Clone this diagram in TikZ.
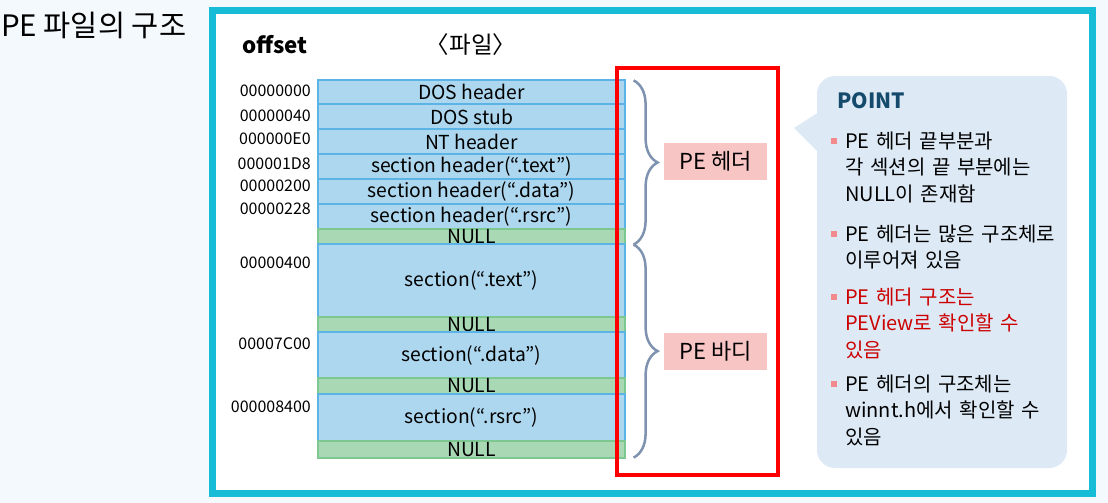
\documentclass[tikz,border=0pt]{standalone}
\usepackage{fontspec}
\setmainfont{Noto Sans CJK KR}
\usetikzlibrary{decorations.pathreplacing}
\definecolor{framecyan}{HTML}{17BCD6}
\definecolor{bgleft}{HTML}{F4F9FE}
\definecolor{secfill}{HTML}{ADD7EE}
\definecolor{secline}{HTML}{5CB4E6}
\definecolor{nulfill}{HTML}{A9D8B5}
\definecolor{nulline}{HTML}{7DC790}
\definecolor{bracec}{HTML}{7F93B0}
\definecolor{tagpink}{HTML}{F8C5C5}
\definecolor{callfill}{HTML}{DDEAF6}
\definecolor{pointblue}{HTML}{154A6D}
\definecolor{bulpink}{HTML}{F28A8C}
\definecolor{hlred}{HTML}{CC0000}
\tikzset{
  blk/.style={draw=secline, fill=secfill, line width=1.2pt, minimum width=307pt,
    inner sep=0pt, font=\fontsize{19.3}{22}\selectfont},
  nul/.style={blk, draw=nulline, fill=nulfill},
  offs/.style={anchor=east, inner sep=0pt, font=\fontsize{16}{18}\selectfont},
  brc/.style={decorate, decoration={brace, amplitude=24pt}, draw=bracec, line width=2.5pt},
  tag/.style={fill=tagpink, minimum width=103pt, minimum height=37pt, inner sep=0pt,
    font=\fontsize{22}{24}\selectfont},
  ptitem/.style={anchor=base west, inner sep=0pt, text width=245pt, align=left,
    font=\fontsize{20}{26.5}\selectfont},
  blt/.style={fill=bulpink, minimum size=6pt, inner sep=0pt}
}
\begin{document}
\begin{tikzpicture}[x=1pt, y=-1pt]
    \useasboundingbox (0,0) rectangle (1108,503);
    \fill[bgleft] (0,0) rectangle (1108,503);
    \draw[framecyan, line width=7pt, fill=white] (212.5,10.5) rectangle (1092,493.5);

    \node[anchor=west, inner sep=0pt, font=\fontsize{29.5}{32}\selectfont] (ttl) at (1,25) {PE 파일의 구조};
    \node[inner sep=0pt, font=\bfseries\fontsize{22.3}{24}\selectfont] (offh) at (275,45) {offset};
    \node[inner sep=0pt, font=\fontsize{23.5}{26}\selectfont] (fileh) at (471,45) {〈파일〉};

    % file layout
    \foreach \i/\t/\b/\s/\txt in {1/80/104/blk/{DOS header}, 2/104/129/blk/{DOS stub},
      3/129/154/blk/{NT header}, 4/154/179/blk/{section header(“.text”)},
      5/179/204/blk/{section header(“.data”)}, 6/204/229/blk/{section header(“.rsrc”)},
      7/229/244/nul/NULL, 8/244/317/blk/{section(“.text”)}, 9/317/332/nul/NULL,
      10/332/378/blk/{section(“.data”)}, 11/378/394/nul/NULL,
      12/394/441/blk/{section(“.rsrc”)}, 13/441/458/nul/NULL}
    {
      \pgfmathsetmacro\yc{(\t+\b)/2}
      \pgfmathsetmacro\h{\b-\t}
      \node[\s, minimum height=\h] (r\i) at (471.5,\yc) {\txt};
    }
    \foreach \i/\y/\txt in {1/90.5/00000000, 2/116/00000040, 3/139/000000E0,
      4/164/000001D8, 5/186/00000200, 6/209/00000228, 7/263/00000400,
      8/344/00007C00, 9/407/000008400}
    \node[offs] (o\i) at (311,\y) {\txt};

    % braces and tags
    \draw[brc] ([xshift=8pt,yshift=-1pt]r1.north east) -- ([xshift=8pt]r7.south east);
    \draw[brc] ([xshift=8pt]r7.south east) -- ([xshift=8pt,yshift=1pt]r13.south east);
    \node[tag] (hdr) at (715.5,161.5) {PE 헤더};
    \node[tag] (bdy) at (715.5,351.5) {PE 바디};
    \draw[red, line width=4pt] (616.5,68) rectangle (778,475);

    % point box
    \node[fill=callfill, rounded corners=18pt, minimum width=250pt, minimum height=392pt] (pt) at (942,272) {};
    \fill[callfill] ([xshift=1pt,yshift=-37pt]pt.north west) -- (794,128)
      -- ([xshift=1pt,yshift=-76pt]pt.north west) -- cycle;
    \node[anchor=west, inner sep=0pt, text=pointblue, font=\bfseries\fontsize{21}{24}\selectfont] (pth) at (837,101) {POINT};
    \foreach \i/\y/\c/\txt in {1/148/black/{PE 헤더 끝부분과\\각 섹션의 끝 부분에는\\NULL이 존재함},
      2/241/black/{PE 헤더는 많은 구조체로\\이루어져 있음},
      3/304/hlred/{PE 헤더 구조는\\PEView로 확인할 수\\있음},
      4/391/black/{PE 헤더의 구조체는\\winnt.h에서 확인할 수\\있음}}
    {
      \node[blt] (bl\i) at (834,\y-7) {};
      \node[ptitem, text=\c] (it\i) at (845,\y) {\txt};
    }
\end{tikzpicture}
\end{document}
